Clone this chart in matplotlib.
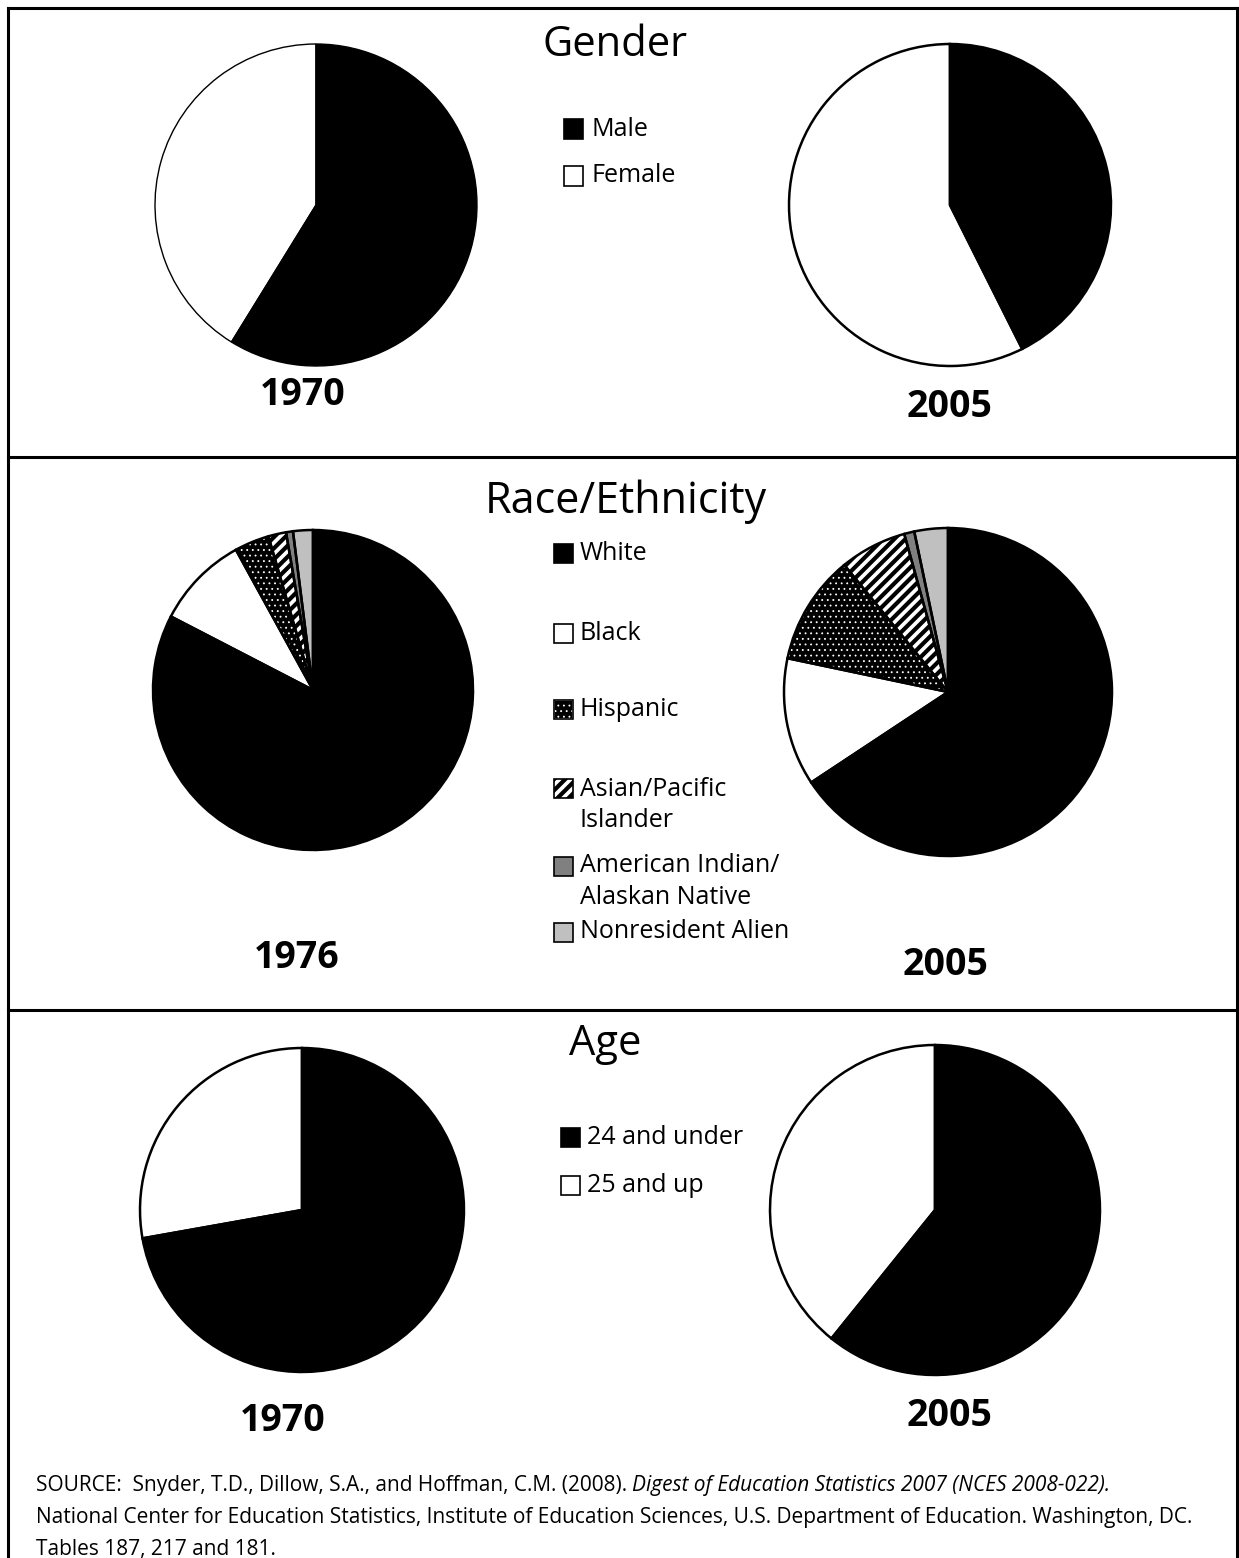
import matplotlib
matplotlib.use("Agg")
import matplotlib.pyplot as plt
from matplotlib.patches import Rectangle
from matplotlib.lines import Line2D

plt.rcParams['font.family'] = ['Open Sans', 'DejaVu Sans']
plt.rcParams['hatch.linewidth'] = 2.0

W, H = 1239, 1558

# data
gender_labels = ["Male", "Female"]
gender_1970 = [58.8, 41.2]
gender_2005 = [42.6, 57.4]

race_labels = ["White", "Black", "Hispanic", "Asian/Pacific\nIslander",
               "American Indian/\nAlaskan Native", "Nonresident Alien"]
race_1976 = [82.6, 9.4, 3.5, 1.8, 0.7, 2.0]
race_2005 = [65.7, 12.6, 10.8, 6.6, 1.0, 3.3]

age_labels = ["24 and under", "25 and up"]
age_1970 = [72.2, 27.8]
age_2005 = [60.8, 39.2]

source_plain = "SOURCE:  Snyder, T.D., Dillow, S.A., and Hoffman, C.M. (2008). "
source_italic = "Digest of Education Statistics 2007 (NCES 2008-022)."
source_line2 = ("National Center for Education Statistics, Institute of Education Sciences, "
                "U.S. Department of Education. Washington, DC.")
source_line3 = "Tables 187, 217 and 181."

two_styles = ['black', 'white']
race_styles = ['black', 'white', 'dots', 'stripes', 'gray', 'lightgray']

# hatch width per style
hatch_lw = {'dots': 0.6, 'stripes': 3.0}

fig = plt.figure(figsize=(W / 100, H / 100), dpi=100)


def fx(x):
    return x / W


def fy(y):
    return 1 - y / H


def style_patch(p, st):
    if st == 'black':
        p.set_facecolor('black'); p.set_edgecolor('black')
    elif st == 'white':
        p.set_facecolor('white'); p.set_edgecolor('black')
    elif st == 'dots':
        p.set_facecolor('black'); p.set_edgecolor('white'); p.set_hatch('...')
    elif st == 'stripes':
        p.set_facecolor('white'); p.set_edgecolor('black'); p.set_hatch('///')
    elif st == 'gray':
        p.set_facecolor('#808080'); p.set_edgecolor('black')
    elif st == 'lightgray':
        p.set_facecolor('#c0c0c0'); p.set_edgecolor('black')
    if st in hatch_lw and hasattr(p, 'set_hatch_linewidth'):
        p.set_hatch_linewidth(hatch_lw[st])


def draw_pie(cx, cy, r, values, styles, lw):
    pad = 6
    ax = fig.add_axes([fx(cx - r - pad), fy(cy + r + pad),
                       2 * (r + pad) / W, 2 * (r + pad) / H])
    wedges, _ = ax.pie(values, startangle=90, counterclock=False, radius=1,
                       wedgeprops=dict(linewidth=0))
    for w, st in zip(wedges, styles):
        style_patch(w, st)
        w.set_linewidth(0)
    ax.pie(values, startangle=90, counterclock=False, radius=1,
           colors=['none'] * len(values),
           wedgeprops=dict(edgecolor='black', linewidth=lw))
    lim = (r + pad) / r
    ax.set_xlim(-lim, lim)
    ax.set_ylim(-lim, lim)
    ax.set_aspect('equal')
    ax.axis('off')


def draw_legend(x_sq, x_txt, centers, labels, styles, size=18, sq=19):
    for yc, lab, st in zip(centers, labels, styles):
        rect = Rectangle((fx(x_sq), fy(yc + sq / 2)), sq / W, sq / H,
                         transform=fig.transFigure, linewidth=1.2)
        style_patch(rect, st)
        fig.add_artist(rect)
        if st == 'dots':
            fig.add_artist(Rectangle((fx(x_sq), fy(yc + sq / 2)), sq / W, sq / H,
                                     transform=fig.transFigure, fill=False,
                                     edgecolor='black', linewidth=1.2))
        for i, line in enumerate(lab.split("\n")):
            fig.text(fx(x_txt), fy(yc + i * 32), line, fontsize=size,
                     ha='left', va='center')


def hline(y, x0=7.5, x1=1236.5):
    fig.add_artist(Line2D([fx(x0), fx(x1)], [fy(y), fy(y)], color='black',
                          linewidth=2.2, transform=fig.transFigure))


def vline(x, y0=7.5, y1=1558):
    fig.add_artist(Line2D([fx(x), fx(x)], [fy(y0), fy(y1)], color='black',
                          linewidth=2.2, transform=fig.transFigure))


# frame
hline(7.5); hline(456.5); hline(1009.5)
vline(7.5); vline(1236.5)

# Gender
fig.text(fx(615), fy(56), "Gender", fontsize=30, ha='center', va='baseline')
draw_pie(316, 205, 161, gender_1970, two_styles, 1.0)
draw_pie(950, 205, 161, gender_2005, two_styles, 1.8)
draw_legend(564, 591, [129, 176], gender_labels, two_styles)
fig.text(fx(303), fy(405), "1970", fontsize=27, fontweight='bold', ha='center', va='baseline')
fig.text(fx(950), fy(417), "2005", fontsize=27, fontweight='bold', ha='center', va='baseline')

# Race/Ethnicity
fig.text(fx(626), fy(513), "Race/Ethnicity", fontsize=31, ha='center', va='baseline')
with plt.rc_context({'hatch.linewidth': 3.0}):
    draw_pie(313, 690, 160, race_1976, race_styles, 1.8)
    draw_pie(948, 692, 164, race_2005, race_styles, 1.8)
    draw_legend(554, 580, [553, 633, 709, 789, 866, 932], race_labels, race_styles)
fig.text(fx(297), fy(968), "1976", fontsize=27, fontweight='bold', ha='center', va='baseline')
fig.text(fx(946), fy(975), "2005", fontsize=27, fontweight='bold', ha='center', va='baseline')

# Age
fig.text(fx(605), fy(1055), "Age", fontsize=30, ha='center', va='baseline')
draw_pie(302, 1210, 162, age_1970, two_styles, 1.8)
draw_pie(935, 1210, 165, age_2005, two_styles, 1.8)
draw_legend(561, 587, [1137, 1185], age_labels, two_styles)
fig.text(fx(283), fy(1431), "1970", fontsize=27, fontweight='bold', ha='center', va='baseline')
fig.text(fx(950), fy(1426), "2005", fontsize=27, fontweight='bold', ha='center', va='baseline')

# source
renderer = fig.canvas.get_renderer()
t1 = fig.text(fx(36), fy(1491), source_plain, fontsize=15, ha='left', va='baseline')
bb = t1.get_window_extent(renderer)
fig.text(bb.x1 / W, fy(1491), source_italic, fontsize=15, style='italic',
         ha='left', va='baseline')
fig.text(fx(36), fy(1523), source_line2, fontsize=15, ha='left', va='baseline')
fig.text(fx(36), fy(1555), source_line3, fontsize=15, ha='left', va='baseline')

fig.savefig("out.png", dpi=100, facecolor='white')
